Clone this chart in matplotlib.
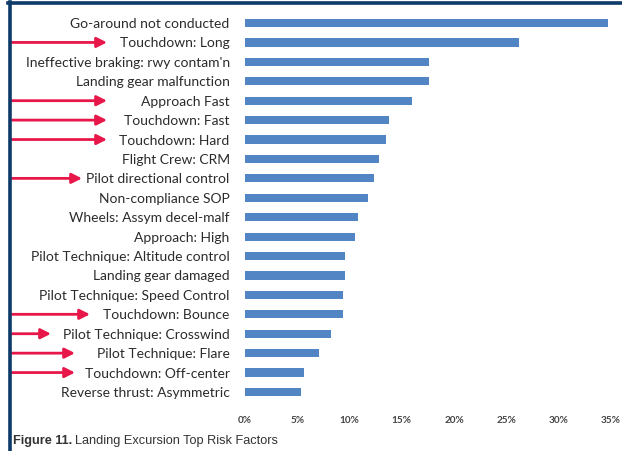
import numpy as np
import matplotlib
matplotlib.use("Agg")
import matplotlib.pyplot as plt
from matplotlib.lines import Line2D
from matplotlib.patches import FancyArrowPatch

plt.rcParams["font.family"] = ["Lato", "DejaVu Sans"]

# risk factors, top to bottom, share of landing excursions (%)
factors = [
    "Go-around not conducted",
    "Touchdown: Long",
    "Ineffective braking: rwy contam'n",
    "Landing gear malfunction",
    "Approach Fast",
    "Touchdown: Fast",
    "Touchdown: Hard",
    "Flight Crew: CRM",
    "Pilot directional control",
    "Non-compliance SOP",
    "Wheels: Assym decel-malf",
    "Approach: High",
    "Pilot Technique: Altitude control",
    "Landing gear damaged",
    "Pilot Technique: Speed Control",
    "Touchdown: Bounce",
    "Pilot Technique: Crosswind",
    "Pilot Technique: Flare",
    "Touchdown: Off-center",
    "Reverse thrust: Asymmetric",
]
share = [34.7, 26.2, 17.6, 17.6, 16.0, 13.8, 13.5, 12.8, 12.3, 11.8,
         10.8, 10.5, 9.6, 9.6, 9.4, 9.4, 8.2, 7.1, 5.6, 5.4]
xticks = [0, 5, 10, 15, 20, 25, 30, 35]

# highlighted factors and where their arrow head stops (pixels from left)
flagged = {
    "Touchdown: Long": 107,
    "Approach Fast": 107,
    "Touchdown: Fast": 107,
    "Touchdown: Hard": 107,
    "Pilot directional control": 82,
    "Touchdown: Bounce": 90,
    "Pilot Technique: Crosswind": 51,
    "Pilot Technique: Flare": 75,
    "Touchdown: Off-center": 75,
}

W, H = 622, 451
fig = plt.figure(figsize=(W / 100, H / 100), dpi=100)
ax = fig.add_axes([245 / W, 1 - 401.7 / H, 366 / W, (401.7 - 13.3) / H])

y = np.arange(len(factors))
ax.barh(y, share, height=0.42, color="#5285c4")
ax.set_ylim(len(factors) - 0.5, -0.5)
ax.set_xlim(0, 35)
ax.set_yticks(y)
ax.set_yticklabels(factors, fontsize=10, color="#2b2b2b")
ax.set_xticks(xticks)
ax.set_xticklabels([f"{t}%" for t in xticks], fontsize=7.2,
                   fontweight="bold", color="#444444")
ax.tick_params(axis="y", length=0, pad=11)
ax.tick_params(axis="x", length=0, pad=10)
for s in ax.spines.values():
    s.set_visible(False)

# navy frame on the top and left edge
navy = "#0e3a68"
fig.add_artist(Line2D([8 / W, 1], [1 - 3 / H, 1 - 3 / H], color=navy,
                      lw=2.6, transform=fig.transFigure))
fig.add_artist(Line2D([9.5 / W, 9.5 / W], [0, 1 - 2 / H], color=navy,
                      lw=2.6, transform=fig.transFigure))

# red arrows pointing at the flagged factors
for name, tip in flagged.items():
    yi = factors.index(name)
    yfig = fig.transFigure.inverted().transform(
        ax.transData.transform((0, yi)))[1]
    fig.add_artist(FancyArrowPatch((12 / W, yfig), (tip / W, yfig),
                                   transform=fig.transFigure,
                                   arrowstyle="-|>,head_length=6,head_width=3",
                                   color="#e8174a", lw=2.0,
                                   shrinkA=0, shrinkB=0))

# caption: bold figure number followed by the title
cap_font = ["Liberation Sans", "DejaVu Sans"]
num = fig.text(13 / W, 1 - 441 / H, "Figure 11.", fontsize=9.2, fontweight="bold",
               color="#333333", va="center", family=cap_font)
fig.canvas.draw()
bb = num.get_window_extent(fig.canvas.get_renderer())
fig.text((bb.x1 + 3) / W, 1 - 441 / H, "Landing Excursion Top Risk Factors",
         fontsize=9.2, color="#333333", va="center", family=cap_font)

fig.savefig("out.png", dpi=100)
